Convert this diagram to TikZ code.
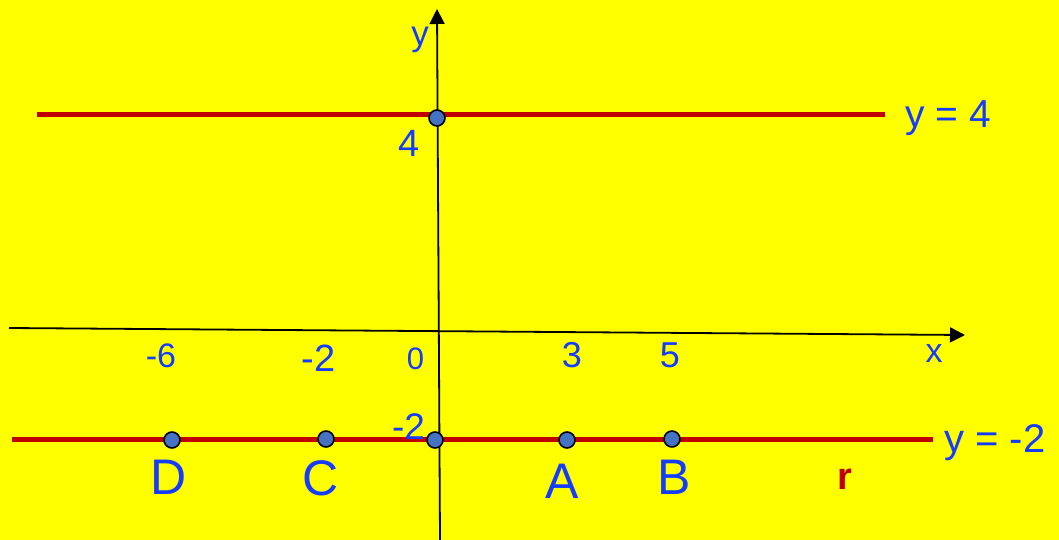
\documentclass[tikz,border=0pt]{standalone}
\usepackage{fontspec}
\setmainfont{Liberation Sans}
\usetikzlibrary{arrows.meta}
\definecolor{bgyellow}{RGB}{255,255,0}
\definecolor{lblue}{RGB}{20,60,255}
\definecolor{linered}{RGB}{192,0,0}
\definecolor{ptfill}{RGB}{70,114,196}
\newcommand{\fs}[1]{\fontsize{#1}{#1}\selectfont}
\tikzset{
  axis/.style={draw=black, line width=1.8pt, -{Triangle[length=15pt,width=15pt]}},
  redline/.style={draw=linered, line width=5pt},
  pt/.style={circle, draw=black, line width=1.6pt, fill=ptfill, minimum size=16pt, inner sep=0pt},
  lbl/.style={text=lblue, anchor=base, inner sep=0pt},
}
\begin{document}
\begin{tikzpicture}[x=1pt,y=-1pt]
\fill[bgyellow] (0,0) rectangle (1059,540);
\useasboundingbox (0,0) rectangle (1059,540);
% line ends
\coordinate (r4a) at (37,115);
\coordinate (r4b) at (885,115);
\coordinate (r2a) at (12,439.5);
\coordinate (r2b) at (933,439.5);
\coordinate (xa) at (9,328);
\coordinate (xb) at (965,335);
\coordinate (ya) at (440,540);
\coordinate (yb) at (437,9);
% red lines
\draw[redline] (r4a) -- (r4b);
\draw[redline] (r2a) -- (r2b);
% axes
\draw[axis] (xa) -- (xb);
\draw[axis] (ya) -- (yb);
% labels
\node[lbl] (ylab) at (420,46) {\fs{35}y};
\node[lbl] (xlab) at (934,362) {\fs{34}x};
\node[lbl] (l4) at (409.5,157) {\fs{38}4};
\node[lbl] (eq4) at (948,128) {\fs{39}y = 4};
\node[lbl] (eqm2) at (995,452) {\fs{40}y = -2};
\node[lbl] (tm6) at (161,367) {\fs{34}-6};
\node[lbl] (tm2) at (318.5,371) {\fs{38}-2};
\node[lbl] (t0) at (415.5,369) {\fs{31}0};
\node[lbl] (t3) at (572,367) {\fs{36}3};
\node[lbl] (t5) at (670,367) {\fs{36}5};
\node[lbl] (ym2) at (408.5,439) {\fs{37}-2};
\node[lbl] (lD) at (169,494) {\fs{50}D};
\node[lbl] (lC) at (321,495) {\fs{50}C};
\node[lbl] (lA) at (562,498) {\fs{50}A};
\node[lbl] (lB) at (674,494) {\fs{50}B};
\node[lbl, text=linered] (lr) at (845,489) {\fs{38}\bfseries r};
% points
\node[pt] (P4) at (437,118) {};
\node[pt] (D) at (172,440) {};
\node[pt] (C) at (326,439) {};
\node[pt] (O) at (435,440) {};
\node[pt] (A) at (567,440) {};
\node[pt] (B) at (672,439) {};
\end{tikzpicture}
\end{document}
